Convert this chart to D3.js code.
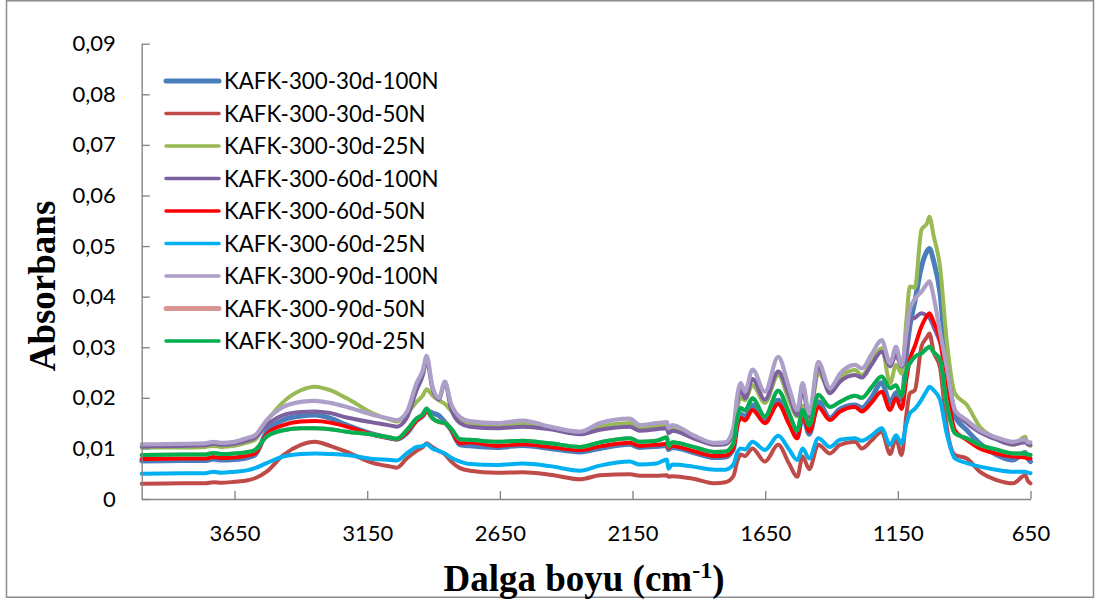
<!DOCTYPE html>
<html>
<head>
<meta charset="utf-8">
<script src="https://cdn.jsdelivr.net/npm/d3@7"></script>
<style>
  html, body { margin: 0; padding: 0; background: #fff; }
  svg { display: block; }
</style>
</head>
<body>
<svg id="chart" width="1099" height="608"></svg>
<script>
// ---------------- DATA ----------------
const wavenumbers = [4000,3850,3760,3730,3700,3651,3600,3573,3529,3466,3400,3347,3290,3227,3127,3060,3039,3001,2964,2940,2926,2905,2880,2857,2835,2800,2763,2662,2563,2461,2348,2273,2160,2123,2060,2020,2015,2000,1921,1840,1800,1770,1755,1742,1726,1698,1651,1601,1560,1529,1509,1484,1450,1406,1368,1311,1286,1250,1211,1179,1157,1136,1117,1105,1086,1061,1040,1031,1015,991,966,935,890,841,780,715,670,660,650];

const seriesNames = ["KAFK-300-30d-100N","KAFK-300-30d-50N","KAFK-300-30d-25N","KAFK-300-60d-100N","KAFK-300-60d-50N","KAFK-300-60d-25N","KAFK-300-90d-100N","KAFK-300-90d-50N","KAFK-300-90d-25N"];

const s30d100N = [.0075,.0076,.0076,.0079,.0077,.0078,.0082,.0087,.0133,.0156,.0164,.0166,.0160,.0146,.0128,.0120,.0118,.0130,.0155,.0165,.0175,.0170,.0165,.0152,.0138,.0107,.0105,.0102,.0106,.0100,.0093,.0100,.0108,.0102,.0104,.0106,.0098,.0102,.0092,.0082,.0083,.0098,.0150,.0168,.0162,.0186,.0155,.0195,.0155,.0122,.0165,.0128,.0192,.0160,.0178,.0186,.0180,.0200,.0230,.0190,.0210,.0196,.0290,.0341,.0390,.0459,.0490,.0495,.0470,.0407,.0261,.0165,.0136,.0110,.0088,.0077,.0092,.0080,.0074];
const s30d50N = [.0030,.0031,.0031,.0033,.0032,.0034,.0037,.0041,.0054,.0087,.0107,.0113,.0105,.0093,.0071,.0064,.0062,.0080,.0095,.0103,.0110,.0103,.0095,.0088,.0075,.0061,.0056,.0052,.0053,.0048,.0039,.0047,.0049,.0046,.0046,.0047,.0044,.0045,.0040,.0031,.0033,.0045,.0075,.0088,.0085,.0100,.0074,.0107,.0070,.0044,.0084,.0059,.0107,.0090,.0107,.0113,.0100,.0115,.0133,.0089,.0120,.0087,.0170,.0209,.0215,.0301,.0320,.0327,.0290,.0260,.0143,.0087,.0080,.0054,.0038,.0031,.0047,.0036,.0031];
const s30d25N = [.0102,.0102,.0103,.0105,.0103,.0105,.0112,.0117,.0153,.0192,.0215,.0222,.0215,.0199,.0169,.0156,.0153,.0168,.0192,.0205,.0217,.0205,.0195,.0188,.0175,.0158,.0150,.0145,.0150,.0140,.0130,.0143,.0150,.0140,.0143,.0145,.0135,.0140,.0122,.0108,.0109,.0128,.0180,.0200,.0195,.0225,.0190,.0245,.0195,.0163,.0185,.0158,.0249,.0215,.0240,.0255,.0245,.0270,.0298,.0229,.0265,.0248,.0358,.0420,.0418,.0532,.0545,.0558,.0520,.0459,.0314,.0209,.0186,.0143,.0120,.0107,.0123,.0108,.0105];
const s60d100N = [.0104,.0105,.0106,.0109,.0107,.0109,.0116,.0121,.0146,.0166,.0172,.0173,.0170,.0161,.0151,.0145,.0143,.0160,.0215,.0245,.0275,.0220,.0197,.0230,.0180,.0150,.0143,.0140,.0143,.0138,.0128,.0137,.0143,.0135,.0138,.0140,.0130,.0135,.0120,.0107,.0108,.0133,.0195,.0215,.0199,.0237,.0196,.0252,.0205,.0166,.0215,.0162,.0261,.0209,.0232,.0245,.0240,.0265,.0291,.0262,.0285,.0262,.0300,.0354,.0358,.0367,.0362,.0358,.0340,.0310,.0261,.0176,.0150,.0132,.0118,.0108,.0112,.0108,.0107];
const s60d50N = [.0079,.0080,.0080,.0083,.0081,.0082,.0086,.0090,.0128,.0146,.0153,.0154,.0151,.0143,.0127,.0120,.0118,.0132,.0155,.0165,.0173,.0160,.0152,.0150,.0138,.0110,.0112,.0105,.0108,.0103,.0097,.0104,.0111,.0105,.0107,.0109,.0101,.0105,.0095,.0085,.0086,.0100,.0145,.0160,.0155,.0176,.0150,.0188,.0148,.0120,.0169,.0133,.0182,.0156,.0173,.0182,.0173,.0190,.0212,.0176,.0199,.0178,.0240,.0275,.0302,.0341,.0362,.0367,.0350,.0314,.0222,.0136,.0117,.0100,.0090,.0084,.0082,.0080,.0080];
const s60d25N = [.0050,.0051,.0051,.0054,.0052,.0054,.0057,.0061,.0071,.0084,.0089,.0090,.0089,.0087,.0079,.0077,.0076,.0090,.0103,.0105,.0108,.0100,.0095,.0090,.0082,.0074,.0069,.0067,.0070,.0065,.0056,.0066,.0074,.0068,.0070,.0078,.0060,.0068,.0064,.0058,.0058,.0068,.0092,.0100,.0098,.0113,.0097,.0125,.0098,.0077,.0100,.0080,.0120,.0103,.0117,.0120,.0115,.0125,.0140,.0107,.0126,.0110,.0150,.0169,.0178,.0196,.0215,.0222,.0215,.0196,.0130,.0080,.0071,.0064,.0058,.0054,.0054,.0052,.0051];
const s90d100N = [.0108,.0109,.0110,.0113,.0111,.0113,.0121,.0126,.0156,.0182,.0192,.0194,.0190,.0182,.0166,.0158,.0156,.0172,.0229,.0255,.0283,.0225,.0200,.0232,.0190,.0162,.0154,.0150,.0155,.0143,.0133,.0150,.0159,.0146,.0150,.0152,.0140,.0146,.0126,.0111,.0112,.0140,.0205,.0229,.0212,.0256,.0212,.0281,.0220,.0176,.0229,.0169,.0271,.0219,.0248,.0265,.0258,.0285,.0314,.0268,.0301,.0264,.0330,.0374,.0395,.0410,.0425,.0430,.0400,.0330,.0261,.0176,.0156,.0136,.0122,.0113,.0118,.0112,.0112];
const s90d50N = [.0087,.0088,.0088,.0091,.0089,.0090,.0093,.0097,.0123,.0136,.0140,.0140,.0138,.0133,.0127,.0121,.0119,.0136,.0159,.0168,.0179,.0160,.0153,.0150,.0140,.0118,.0117,.0113,.0115,.0110,.0103,.0112,.0120,.0113,.0115,.0122,.0104,.0112,.0103,.0093,.0094,.0110,.0160,.0180,.0175,.0199,.0163,.0214,.0170,.0136,.0176,.0146,.0206,.0182,.0192,.0204,.0200,.0220,.0242,.0219,.0225,.0203,.0255,.0268,.0281,.0288,.0298,.0301,.0290,.0275,.0189,.0130,.0120,.0107,.0098,.0090,.0090,.0088,.0087];
const s90d25N = [.0087,.0088,.0088,.0091,.0089,.0090,.0093,.0097,.0123,.0136,.0140,.0140,.0138,.0133,.0127,.0121,.0119,.0136,.0159,.0168,.0179,.0160,.0153,.0150,.0140,.0118,.0117,.0113,.0115,.0110,.0103,.0112,.0120,.0113,.0115,.0122,.0104,.0112,.0103,.0093,.0094,.0110,.0160,.0180,.0175,.0199,.0163,.0214,.0170,.0136,.0176,.0146,.0206,.0182,.0192,.0204,.0200,.0220,.0242,.0219,.0225,.0203,.0255,.0268,.0281,.0288,.0298,.0301,.0290,.0275,.0189,.0130,.0120,.0107,.0098,.0090,.0090,.0088,.0087];

const xTickValues = [3650,3150,2650,2150,1650,1150,650];
const yTickValues = [0,0.01,0.02,0.03,0.04,0.05,0.06,0.07,0.08,0.09];
const yTickLabels = ["0","0,01","0,02","0,03","0,04","0,05","0,06","0,07","0,08","0,09"];

const seriesValues = [s30d100N,s30d50N,s30d25N,s60d100N,s60d50N,s60d25N,s90d100N,s90d50N,s90d25N];
const seriesColors = ["#4A7EBB","#BE4B48","#98B954","#7D60A0","#FF0000","#00B0F0","#ADA0C8","#D99694","#00B050"];
const lineWidths = [5,4,4,4,4,4,4.2,4,4];
const legendWidths = [5,3.5,3.5,3.5,3.5,3.5,3.5,5,3.5];

// ---------------- CHART ----------------
const svg = d3.select("#chart");
const plot = {left: 141.7, right: 1030.5, top: 43.7, bottom: 499};

svg.append("rect")
  .attr("x", 6.5).attr("y", 0.75).attr("width", 1087).attr("height", 596.5)
  .attr("fill", "#fff").attr("stroke", "#8c8c8c").attr("stroke-width", 1.5);

const x = d3.scaleLinear().domain([4000, 650]).range([plot.left, plot.right]);
const y = d3.scaleLinear().domain([0, 0.09]).range([plot.bottom, plot.top]);

const line = d3.line()
  .x((d, i) => x(wavenumbers[i]))
  .y(d => y(d))
  .curve(d3.curveMonotoneX);

const g = svg.append("g");
seriesValues.forEach((vals, k) => {
  g.append("path")
    .datum(vals)
    .attr("d", line)
    .attr("fill", "none")
    .attr("stroke", seriesColors[k])
    .attr("stroke-width", k === 7 ? lineWidths[8] : lineWidths[k])
    .attr("stroke-linejoin", "round")
    .attr("stroke-linecap", "round");
});

const axisColor = "#868686";
const tickFont = "Lato, 'Open Sans', sans-serif";

const yAxis = d3.axisLeft(y)
  .tickValues(yTickValues)
  .tickFormat((d, i) => yTickLabels[i])
  .tickSizeInner(-8).tickSizeOuter(0).tickPadding(26);
const yg = svg.append("g").attr("transform", `translate(${plot.left},0)`).call(yAxis);

const xAxis = d3.axisBottom(x)
  .tickValues(xTickValues)
  .tickFormat(d => String(d))
  .tickSizeInner(-8).tickSizeOuter(0).tickPadding(26);
const xg = svg.append("g").attr("transform", `translate(0,${plot.bottom})`).call(xAxis);

[yg, xg].forEach(a => {
  a.select(".domain").attr("stroke", axisColor).attr("stroke-width", 1.4);
  a.selectAll(".tick line").attr("stroke", axisColor).attr("stroke-width", 1.4);
  a.selectAll(".tick text").attr("fill", "#000").style("font-family", tickFont).style("font-size", "22px");
});

// Legend
const legend = svg.append("g");
seriesNames.forEach((name, k) => {
  const ly = 81 + k * 32.5;
  legend.append("line")
    .attr("x1", 166).attr("x2", 219).attr("y1", ly).attr("y2", ly)
    .attr("stroke", seriesColors[k]).attr("stroke-width", legendWidths[k])
    .attr("stroke-linecap", "round");
  legend.append("text")
    .attr("x", 224).attr("y", ly).attr("dy", "0.36em")
    .style("font-family", tickFont).style("font-size", "22.3px")
    .text(name);
});

// Axis titles
svg.append("text")
  .attr("transform", "translate(55,286) rotate(-90)")
  .attr("text-anchor", "middle")
  .style("font-family", "'Liberation Serif', 'Times New Roman', serif")
  .style("font-weight", "bold").style("font-size", "37px")
  .text("Absorbans");

const xt = svg.append("text")
  .attr("x", 584).attr("y", 591)
  .attr("text-anchor", "middle")
  .style("font-family", "'Liberation Serif', 'Times New Roman', serif")
  .style("font-weight", "bold").style("font-size", "37px");
xt.append("tspan").text("Dalga boyu (cm");
xt.append("tspan").attr("dy", "-13").style("font-size", "24px").text("-1");
xt.append("tspan").attr("dy", "13").text(")");
</script>
</body>
</html>
